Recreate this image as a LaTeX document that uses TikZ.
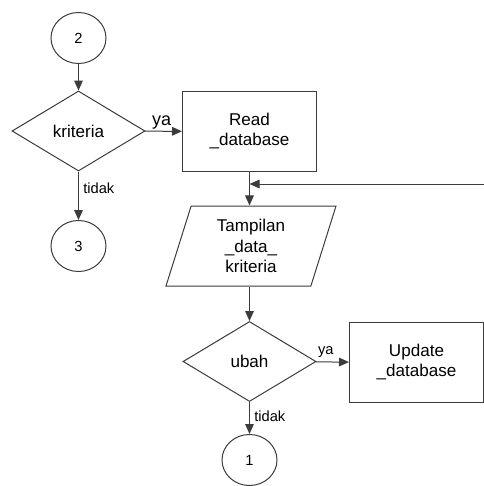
\documentclass[tikz,border=0pt]{standalone}
\usepackage{fontspec}
\setmainfont{Liberation Sans}
\usetikzlibrary{arrows.meta,positioning,calc,shapes.geometric}
\definecolor{garis}{RGB}{60,60,60}
\newlength\px
\setlength\px{0.75pt}

\tikzset{
  alur/.style={draw=garis,line width=0.75pt,-{Triangle[length=7.5pt,width=6.5pt]}},
  konektor/.style={ellipse,draw=garis,line width=0.75pt,minimum width=55\px,minimum height=51\px,inner sep=0pt,font=\fontsize{11}{13}\selectfont},
  keputusan/.style={diamond,draw=garis,line width=0.75pt,minimum width=133\px,minimum height=80\px,aspect=1.66,inner sep=0pt,font=\fontsize{12.8}{15}\selectfont},
  proses/.style={rectangle,draw=garis,line width=0.75pt,minimum width=134\px,minimum height=80\px,align=center,font=\fontsize{12.8}{15}\selectfont},
  masukan/.style={trapezium,trapezium left angle=65,trapezium right angle=115,trapezium stretches body,draw=garis,line width=0.75pt,minimum width=170\px,minimum height=80\px,inner sep=0pt,align=center,font=\fontsize{12.8}{15.5}\selectfont},
  ket/.style={font=\fontsize{11}{13}\selectfont,inner sep=1pt}
}

\begin{document}
\begin{tikzpicture}[x=0.75pt,y=-0.75pt]
  \useasboundingbox (0,0) rectangle (484,486);

  % alur bagian kiri
  \node[konektor] (c2) at (78.5,38) {2};
  \node[keputusan] (kriteria) at (78.5,131) {kriteria};
  \node[konektor] (c3) at (78.5,246) {3};
  \node[proses] (read) at (249.5,131.5) {Read\\\_database};

  % alur bagian tengah
  \node[masukan] (tampil) at (251,246) {Tampilan\\\_data\_\\kriteria};
  \node[keputusan] (ubah) at (249.5,361.5) {ubah};
  \node[proses] (update) at (416.5,362.5) {Update\\\_database};
  \node[konektor] (c1) at (249.5,460) {1};

  \coordinate (gabung) at (249.5,184);
  \coordinate (balik) at (484,184);

  \draw[alur] (c2) -- (kriteria);
  \draw[alur] (kriteria) -- node[ket,above,font=\fontsize{13.5}{15}\selectfont,pos=0.45] (ya1) {ya} (read);
  \draw[alur] (kriteria) -- node[ket,right,pos=0.35,xshift=3\px] (tidak1) {tidak} (c3);
  \draw[alur] (read) -- (tampil.north -| read);
  \draw[alur] (balik) -- (gabung);
  \draw[alur] (tampil.south -| ubah) -- (ubah);
  \draw[alur] (ubah) -- node[ket,above,pos=0.3,yshift=2pt] (ya2) {ya} (update);
  \draw[alur] (ubah) -- node[ket,right,pos=0.45,xshift=3\px] (tidak2) {tidak} (c1);
\end{tikzpicture}
\end{document}
